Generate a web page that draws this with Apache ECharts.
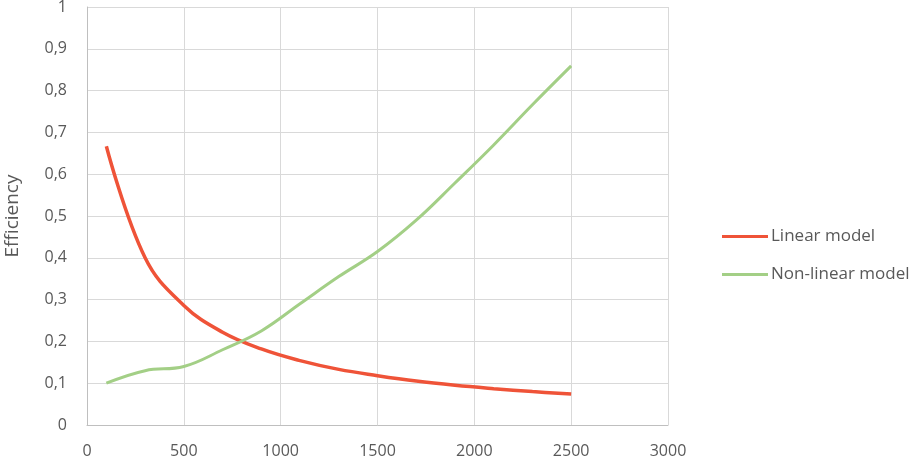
<!DOCTYPE html>
<html>
<head>
<meta charset="utf-8">
<script src="https://cdn.jsdelivr.net/npm/echarts@6/dist/echarts.min.js"></script>
<style>
  html, body { margin: 0; padding: 0; background: #fff; }
  #chart { width: 913px; height: 460px; }
</style>
</head>
<body>
<div id="chart"></div>
<script>
const xValues = [100, 300, 500, 700, 900, 1100, 1300, 1500, 1700, 1900, 2100, 2300, 2500];
const linearModel = [0.667, 0.4, 0.286, 0.222, 0.182, 0.154, 0.133, 0.118, 0.105, 0.095, 0.087, 0.08, 0.074];
const nonLinearModel = [0.1, 0.13, 0.14, 0.18, 0.225, 0.29, 0.355, 0.415, 0.49, 0.579, 0.67, 0.766, 0.859];

const textColor = "#595959";
const fontFamily = "Open Sans";

const chart = echarts.init(document.getElementById("chart"));

function pairs(ys) {
  return xValues.map((x, i) => [x, ys[i]]);
}

chart.setOption({
  animation: false,
  grid: {
    left: 87,
    right: 245,
    top: 7,
    bottom: 35,
    outerBoundsMode: "none"
  },
  legend: {
    orient: "vertical",
    left: 722,
    top: 228,
    padding: 0,
    icon: "rect",
    itemWidth: 46,
    itemHeight: 3,
    itemGap: 21,
    textStyle: { color: textColor, fontSize: 17, fontFamily: fontFamily, padding: [0, 0, 0, -2] },
    data: ["Linear model", "Non-linear model"]
  },
  xAxis: {
    type: "value",
    min: 0,
    max: 3000,
    interval: 500,
    axisLine: { lineStyle: { color: "#bfbfbf" } },
    axisTick: { show: false },
    axisLabel: {
      color: textColor,
      fontSize: 16,
      fontFamily: fontFamily,
      margin: 18,
      formatter: v => String(v)
    },
    splitLine: { lineStyle: { color: "#d9d9d9" } }
  },
  yAxis: {
    type: "value",
    min: 0,
    max: 1,
    interval: 0.1,
    name: "Efficiency",
    nameLocation: "middle",
    nameGap: 65,
    nameTextStyle: { color: textColor, fontSize: 19, fontFamily: fontFamily },
    axisLine: { show: true, lineStyle: { color: "#bfbfbf" } },
    axisTick: { show: false },
    axisLabel: {
      color: textColor,
      fontSize: 16,
      fontFamily: fontFamily,
      margin: 20,
      formatter: v => String(Math.round(v * 10) / 10).replace(".", ",")
    },
    splitLine: { lineStyle: { color: "#d9d9d9" } }
  },
  series: [
    {
      name: "Linear model",
      type: "line",
      data: pairs(linearModel),
      smooth: 0.4,
      showSymbol: false,
      itemStyle: { color: "#ef5338" },
      lineStyle: { color: "#ef5338", width: 3.5 }
    },
    {
      name: "Non-linear model",
      type: "line",
      data: pairs(nonLinearModel),
      smooth: 0.4,
      showSymbol: false,
      itemStyle: { color: "#a3cf86" },
      lineStyle: { color: "#a3cf86", width: 3 }
    }
  ]
});
</script>
</body>
</html>
